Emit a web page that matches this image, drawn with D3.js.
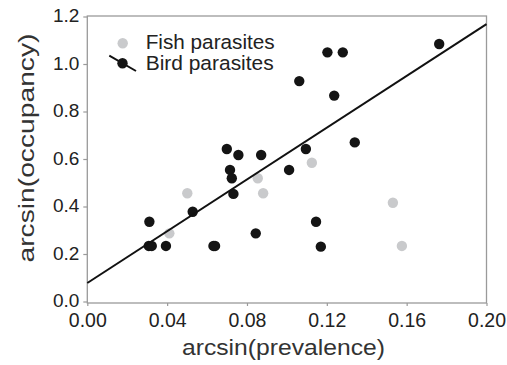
<!DOCTYPE html>
<html><head><meta charset="utf-8">
<script src="https://cdn.jsdelivr.net/npm/d3@7"></script>
<style>
html,body{margin:0;padding:0;background:#fff;}
svg{display:block;font-family:"Liberation Sans",Arial,Helvetica,sans-serif;}
</style></head>
<body>
<script>
// Data
const birdX = [0.0311,0.0308,0.0323,0.0394,0.0528,0.0632,0.0640,0.0699,0.0715,0.0724,0.0732,0.0757,0.0844,0.0871,0.1011,0.1062,0.1095,0.1146,0.1170,0.1203,0.1237,0.1280,0.1340,0.1763];
const birdY = [0.336,0.234,0.234,0.234,0.378,0.234,0.234,0.642,0.554,0.519,0.453,0.617,0.287,0.617,0.554,0.928,0.642,0.336,0.231,1.049,0.867,1.049,0.670,1.084];
const fishX = [0.0411,0.0501,0.0854,0.0881,0.1125,0.1531,0.1576];
const fishY = [0.287,0.456,0.519,0.456,0.584,0.416,0.234];
const fitIntercept = 0.078;
const fitSlope = 5.45;
const xTicks = [0,0.04,0.08,0.12,0.16,0.20];
const yTicks = [0,0.2,0.4,0.6,0.8,1.0,1.2];
const seriesNames = ["Fish parasites","Bird parasites"];
const xTitle = "arcsin(prevalence)";
const yTitle = "arcsin(occupancy)";

const W = 507, H = 365;
const svg = d3.select("body").append("svg").attr("width", W).attr("height", H);

const x = d3.scaleLinear().domain([0,0.2]).range([87.3,486.5]);
const y = d3.scaleLinear().domain([0,1.2]).range([301.5,16.5]);
const frameTop = 16, frameBottom = 303;
const axisCol = "#9a9a9a";
const R = 5.2;

// frame
svg.append("rect").attr("x", x(0)).attr("y", frameTop)
  .attr("width", x(0.2)-x(0)).attr("height", frameBottom-frameTop)
  .attr("fill","none").attr("stroke",axisCol).attr("stroke-width",1.3);

// x axis
const xAxis = svg.append("g").attr("transform",`translate(0,${frameBottom})`)
  .call(d3.axisBottom(x).tickValues(xTicks).tickFormat(d3.format(".2f")).tickSize(3).tickPadding(7));
xAxis.select(".domain").remove();
xAxis.selectAll("line").attr("stroke",axisCol).attr("stroke-width",1.2);
xAxis.selectAll("text").attr("font-size","19.5px").attr("fill","#222").attr("font-family","Liberation Sans, Arial, sans-serif");

// y axis
const yAxis = svg.append("g").attr("transform",`translate(${x(0)},0)`)
  .call(d3.axisLeft(y).tickValues(yTicks).tickFormat(d3.format(".1f")).tickSize(4).tickPadding(4));
yAxis.select(".domain").remove();
yAxis.selectAll("line").attr("stroke",axisCol).attr("stroke-width",1.2);
yAxis.selectAll("text").attr("font-size","19px").attr("fill","#222").attr("dy","0.27em").attr("font-family","Liberation Sans, Arial, sans-serif");

// points
const fish = fishX.map((v,i)=>({x:v,y:fishY[i]}));
const bird = birdX.map((v,i)=>({x:v,y:birdY[i]}));
svg.append("g").selectAll("circle").data(fish).join("circle")
  .attr("cx",d=>x(d.x)).attr("cy",d=>y(d.y)).attr("r",R).attr("fill","#c9cacc");
svg.append("g").selectAll("circle").data(bird).join("circle")
  .attr("cx",d=>x(d.x)).attr("cy",d=>y(d.y)).attr("r",R).attr("fill","#141414");

// regression line
svg.append("line")
  .attr("x1",x(0)).attr("y1",y(fitIntercept))
  .attr("x2",x(0.2)).attr("y2",y(fitIntercept+fitSlope*0.2))
  .attr("stroke","#111").attr("stroke-width",2);

// legend
const lg = svg.append("g");
lg.append("circle").attr("cx",122.7).attr("cy",43.3).attr("r",R).attr("fill","#c9cacc");
lg.append("line").attr("x1",109.3).attr("y1",55.7).attr("x2",136).attr("y2",71).attr("stroke","#111").attr("stroke-width",2);
lg.append("circle").attr("cx",122.5).attr("cy",63.3).attr("r",R).attr("fill","#141414");
lg.append("text").attr("x",145.7).attr("y",48.5).attr("font-size","20.5px").attr("fill","#222")
  .attr("textLength",129).attr("lengthAdjust","spacingAndGlyphs").text(seriesNames[0]);
lg.append("text").attr("x",145.7).attr("y",70).attr("font-size","20.5px").attr("fill","#222")
  .attr("textLength",128).attr("lengthAdjust","spacingAndGlyphs").text(seriesNames[1]);

// axis titles
svg.append("text").attr("x",283.5).attr("y",355).attr("text-anchor","middle")
  .attr("font-size","21.5px").attr("fill","#333")
  .attr("textLength",203).attr("lengthAdjust","spacingAndGlyphs").text(xTitle);
svg.append("text").attr("transform","translate(34,148) rotate(-90)").attr("text-anchor","middle")
  .attr("font-size","21.5px").attr("fill","#333")
  .attr("textLength",229).attr("lengthAdjust","spacingAndGlyphs").text(yTitle);
</script>
</body></html>
